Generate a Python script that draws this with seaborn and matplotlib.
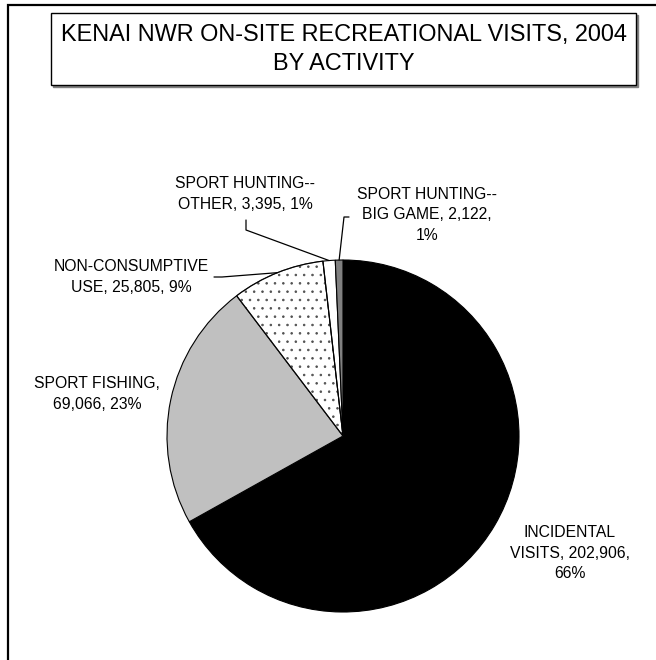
"""Kenai NWR on-site recreational visits, 2004 -- pie chart by activity."""

import matplotlib

matplotlib.use("Agg")
import matplotlib.pyplot as plt  # noqa: E402
import numpy as np  # noqa: E402
import seaborn as sns  # noqa: E402
from matplotlib import font_manager  # noqa: E402
from matplotlib.lines import Line2D  # noqa: E402
from matplotlib.patches import Rectangle, Wedge  # noqa: E402

# data (clockwise from 12 o'clock)
activities = [
    "INCIDENTAL VISITS",
    "SPORT FISHING",
    "NON-CONSUMPTIVE USE",
    "SPORT HUNTING--OTHER",
    "SPORT HUNTING--BIG GAME",
]
visits = [202906, 69066, 25805, 3395, 2122]
percent_shown = [66, 23, 9, 1, 1]
label_text = [
    "INCIDENTAL\nVISITS, 202,906,\n66%",
    "SPORT FISHING,\n69,066, 23%",
    "NON-CONSUMPTIVE\nUSE, 25,805, 9%",
    "SPORT HUNTING--\nOTHER, 3,395, 1%",
    "SPORT HUNTING--\nBIG GAME, 2,122,\n1%",
]
slice_colors = ["#000000", "#c0c0c0", "#ffffff", "#ffffff", "#808080"]
slice_hatch = [None, None, "..", None, None]

W, H = 656, 660

sns.set_theme(style="white")
have_narrow = any(f.name == "Liberation Sans Narrow" for f in font_manager.fontManager.ttflist)
plt.rcParams["font.family"] = ["Liberation Sans", "DejaVu Sans"]
plt.rcParams["hatch.linewidth"] = 0.6
if have_narrow:
    lab_font = dict(family=["Liberation Sans Narrow", "Liberation Sans"], fontsize=13.7, linespacing=1.21)
else:
    lab_font = dict(family=["Liberation Sans"], fontsize=11.3, linespacing=1.45)


def fp(x, y):
    """pixel position (from top-left) -> figure fraction"""
    return x / W, 1 - y / H


fig = plt.figure(figsize=(W / 100, H / 100), dpi=100)
fig.patch.set_facecolor("white")

# outer chart frame (cropped on right/bottom)
fig.add_artist(Rectangle(fp(8, 720), 800 / W, 715 / H, transform=fig.transFigure,
                         fill=False, edgecolor="black", lw=1.6))

# title box with shadow
bx0, by0, bx1, by1 = 51, 13, 636, 85
fig.add_artist(Rectangle(fp(bx0 + 2, by1 + 2), (bx1 - bx0) / W, (by1 - by0) / H,
                         transform=fig.transFigure, facecolor="#808080", edgecolor="#808080", lw=1))
fig.add_artist(Rectangle(fp(bx0, by1), (bx1 - bx0) / W, (by1 - by0) / H,
                         transform=fig.transFigure, facecolor="white", edgecolor="black", lw=1))
fig.text(*fp((bx0 + bx1) / 2, 49), "KENAI NWR ON-SITE RECREATIONAL VISITS, 2004\nBY ACTIVITY",
         ha="center", va="center", fontsize=16.9, linespacing=1.3, color="black")

# pie
cx, cy, r = 343, 436, 176
ax = fig.add_axes([(cx - r) / W, (H - cy - r) / H, 2 * r / W, 2 * r / H])
wedges, _ = ax.pie(visits, colors=slice_colors, startangle=90, counterclock=False,
                   wedgeprops=dict(edgecolor="black", linewidth=0.8))
for w, h in zip(wedges, slice_hatch):
    if h:
        # grey dots, then redraw the black outline on top
        w.set_hatch(h)
        w.set_edgecolor("#505050")
        ax.add_patch(Wedge(w.center, w.r, w.theta1, w.theta2, fill=False,
                           edgecolor="black", linewidth=0.8))
ax.set_xlim(-1, 1)
ax.set_ylim(-1, 1)
ax.set_axis_off()

# labels (center positions in pixels) and leader-line anchors next to the text
label_pos = [(570, 553), (97, 394), (131, 277), (245, 194), (427, 215)]
leader_start = [None, None, [(214, 277), (222, 277)], [(246, 220), (246, 230)], [(349, 217), (344, 217)]]

for wedge, text, (lx, ly), lead in zip(wedges, label_text, label_pos, leader_start):
    fig.text(*fp(lx, ly), text, ha="center", va="center", multialignment="center",
             color="black", **lab_font)
    if lead is None:
        continue
    mid = np.deg2rad((wedge.theta1 + wedge.theta2) / 2)
    tip = ax.transData.transform((np.cos(mid), np.sin(mid)))
    tip = fig.transFigure.inverted().transform(tip)
    pts = [fp(*p) for p in lead] + [tuple(tip)]
    xs, ys = zip(*pts)
    fig.add_artist(Line2D(xs, ys, transform=fig.transFigure, color="black", lw=0.9))

fig.savefig("out.png", dpi=100)
plt.close(fig)
